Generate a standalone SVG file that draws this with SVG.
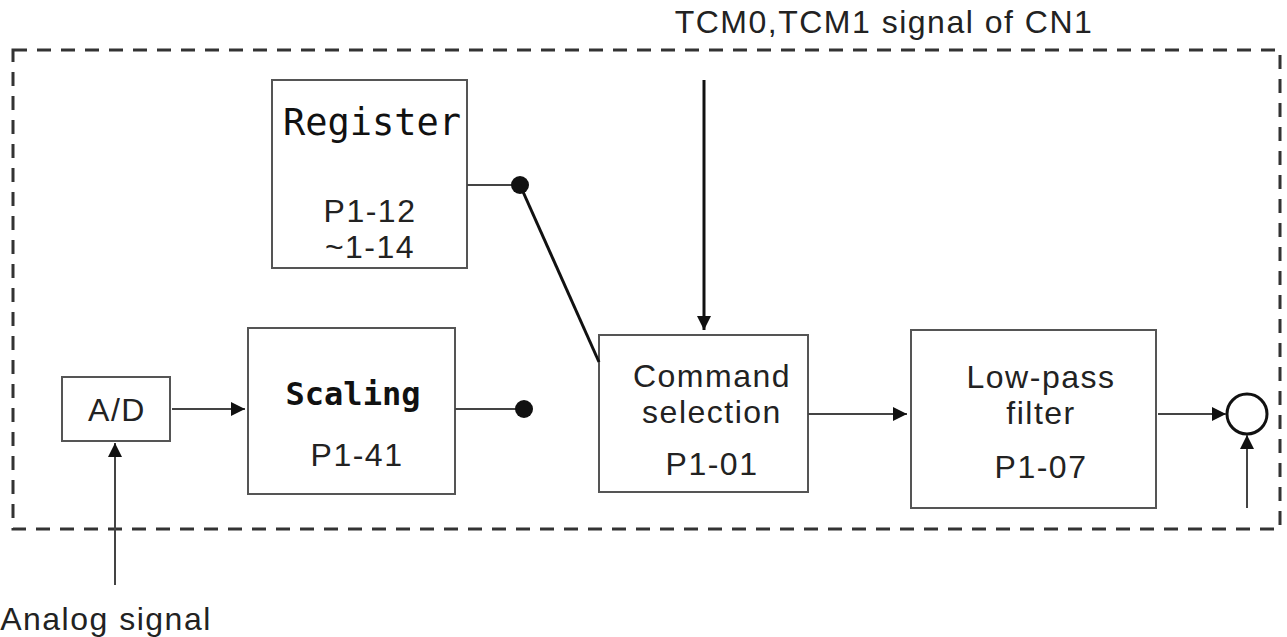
<svg xmlns="http://www.w3.org/2000/svg" width="1287" height="637" viewBox="0 0 1287 637">
<style>
.box{fill:#fff;stroke:#555;stroke-width:2}
.ln{stroke:#444;stroke-width:2;fill:none}
.dk{stroke:#111;stroke-width:3;fill:none}
.t{font-family:"Liberation Sans",Arial,sans-serif;font-size:32px;letter-spacing:1.5px;fill:#222;text-anchor:middle}
.m{font-family:"DejaVu Sans Mono",monospace;fill:#111;text-anchor:middle}
</style>
<defs>
<marker id="ah2" viewBox="0 0 10 10" refX="10" refY="5" markerWidth="14" markerHeight="14" markerUnits="userSpaceOnUse" orient="auto"><path d="M0,0 L10,5 L0,10 z" fill="#111"/></marker>
</defs>
<rect x="13" y="50" width="1267" height="479" fill="none" stroke="#333" stroke-width="3" stroke-dasharray="14,10"/>
<text class="t" x="884" y="33">TCM0,TCM1 signal of CN1</text>
<text class="t" x="106" y="630">Analog signal</text>
<g id="register"><rect class="box" x="272" y="80" width="195" height="188"/><text class="m" x="372" y="135" font-size="37">Register</text><text class="t" x="370" y="222">P1-12</text><text class="t" x="370" y="258">~1-14</text></g>
<g id="ad"><rect class="box" x="62" y="377" width="108" height="64"/><text class="t" x="117" y="421">A/D</text></g>
<g id="scaling"><rect class="box" x="248" y="328" width="207" height="166"/><text class="m" x="353" y="405" font-size="32" font-weight="bold">Scaling</text><text class="t" x="357" y="466">P1-41</text></g>
<g id="cmd"><rect class="box" x="599" y="335" width="209" height="157"/><text class="t" x="712" y="387">Command</text><text class="t" x="712" y="423">selection</text><text class="t" x="712" y="475">P1-01</text></g>
<g id="lpf"><rect class="box" x="911" y="330" width="245" height="178"/><text class="t" x="1041" y="388">Low-pass</text><text class="t" x="1041" y="424">filter</text><text class="t" x="1041" y="478">P1-07</text></g>
<g id="sum"><circle cx="1247" cy="414" r="20" fill="#fff" stroke="#111" stroke-width="3"/></g>
<g id="connectors">
<line class="ln" x1="467" y1="185" x2="520" y2="185"/>
<circle cx="520" cy="185" r="9" fill="#111"/>
<line class="dk" x1="520" y1="185" x2="599" y2="362"/>
<line class="ln" x1="455" y1="409" x2="524" y2="409"/>
<circle cx="524" cy="409" r="9" fill="#111"/>
<line class="dk" x1="704" y1="80" x2="704" y2="330" marker-end="url(#ah2)"/>
<line class="ln" x1="172" y1="409" x2="245" y2="409" marker-end="url(#ah2)"/>
<line class="ln" x1="808" y1="414" x2="907" y2="414" marker-end="url(#ah2)"/>
<line class="ln" x1="1158" y1="414" x2="1226" y2="414" marker-end="url(#ah2)"/>
<line class="ln" x1="1247" y1="508" x2="1247" y2="435" marker-end="url(#ah2)"/>
<line class="ln" x1="115" y1="585" x2="115" y2="443" marker-end="url(#ah2)"/>
</g>
</svg>
